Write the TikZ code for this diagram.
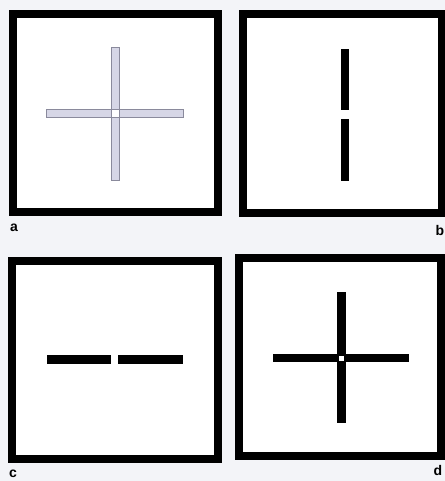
\documentclass[tikz,border=0pt]{standalone}
\usepackage{fontspec}
\setsansfont{Liberation Sans}
\begin{document}
\begin{tikzpicture}[x=0.75pt,y=-0.75pt,
  framebox/.style={draw=black,line width=6pt,fill=white},
  lightbar/.style={fill=barfill,draw=none},
  lightedge/.style={draw=baredge,line width=0.6pt},
  blackbar/.style={fill=black,draw=none},
  hole/.style={fill=white,draw=none},
  lab/.style={font=\sffamily\bfseries\fontsize{10.5}{10.5}\selectfont,inner sep=0pt}]
\definecolor{bg}{HTML}{F3F4F8}
\definecolor{barfill}{HTML}{D6D6E6}
\definecolor{baredge}{HTML}{8A8A9C}
\useasboundingbox (0,0) rectangle (445,481);
\fill[bg] (0,0) rectangle (445,481);
% frames
\draw[framebox] (13,14) rectangle (218,212);
\draw[framebox] (243,14.5) rectangle (442,213);
\draw[framebox] (12,260.5) rectangle (217.5,459);
\draw[framebox] (239,257.5) rectangle (441,456);
% panel a: light cross
\fill[lightbar] (111,47) rectangle (119,180);
\fill[lightbar] (46,109) rectangle (183,117);
\fill[hole] (111,109) rectangle (119,117);
\draw[lightedge] (111,47) rectangle (119,180);
\draw[lightedge] (46,109) rectangle (183,117);
% panel b: two vertical bars
\fill[blackbar] (341,49) rectangle (349,110);
\fill[blackbar] (341,119) rectangle (349,181);
% panel c: two horizontal bars
\fill[blackbar] (47,355) rectangle (111,364);
\fill[blackbar] (118,355) rectangle (183,364);
% panel d: black cross
\fill[blackbar] (337,292) rectangle (346,423);
\fill[blackbar] (273,354) rectangle (409,362);
\fill[hole] (339,355.5) rectangle (344,360.5);
% labels
\node[lab] (la) at (14,228) {a};
\node[lab] (lb) at (440,230) {b};
\node[lab] (lc) at (13,474) {c};
\node[lab] (ld) at (438,470) {d};
\end{tikzpicture}
\end{document}
